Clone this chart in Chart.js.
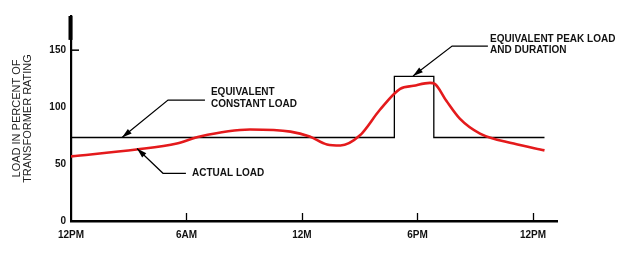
<!DOCTYPE html>
<html>
<head>
<meta charset="utf-8">
<script src="https://cdn.jsdelivr.net/npm/chart.js@4.4.1/dist/chart.umd.min.js"></script>
<style>
html,body{margin:0;padding:0;background:#fff}
#wrap{width:629px;height:269px}
</style>
</head>
<body>
<div id="wrap"><canvas id="loadChart"></canvas></div>
<script>
// axis ticks
const xTickValues = [0, 6, 12, 18, 24];
const xTickLabels = ['12PM', '6AM', '12M', '6PM', '12PM'];
const yTickValues = [0, 50, 100, 150];

// actual load (red curve), hours from start vs percent of rating
const actualHours = [0, 3.4, 5.5, 6.7, 9.3, 11.4, 12.4, 13.3, 14.0, 15.0, 16.05, 17.1, 17.8, 18.65, 18.9, 19.5, 20.2, 21.25, 23.0, 24.6];
const actualLoad  = [56.7, 62.8, 68.1, 74.2, 80.3, 78.5, 74.2, 67.2, 66.3, 75, 97.7, 116, 118.7, 121.3, 120.4, 105.6, 89.9, 76.8, 68, 62];

// equivalent constant load with the peak block
const equivHours = [0, 16.8, 16.8, 18.85, 18.85, 24.6];
const equivLoad  = [73.3, 73.3, 127, 127, 73.3, 73.3];

// callout labels, in data units (text anchor + leader path ending at arrow tip)
const callouts = [
  {lines: ['EQUIVALENT', 'CONSTANT LOAD'], at: [7.27, 107.8], path: [[6.96, 106.2], [5.04, 106.2], [2.65, 73.3]]},
  {lines: ['ACTUAL LOAD'], at: [6.29, 41.9], path: [[5.97, 41.9], [4.78, 41.9], [3.43, 63.7]]},
  {lines: ['EQUIVALENT PEAK LOAD', 'AND DURATION'], at: [21.77, 154.9], path: [[21.66, 153.6], [19.8, 153.6], [17.77, 127.4]]}
];

const FONT = '"Liberation Sans", Arial, sans-serif';

const toPts = (xs, ys) => xs.map((x, i) => ({x: x, y: ys[i]}));

const extras = {
  id: 'extras',
  afterDatasetsDraw(chart) {
    const {ctx, scales: {x, y}} = chart;
    ctx.save();
    ctx.strokeStyle = '#000';
    // heavier stub at the top of the y axis
    ctx.lineWidth = 4;
    ctx.beginPath();
    ctx.moveTo(x.left - 0.5, y.top);
    ctx.lineTo(x.left - 0.5, y.getPixelForValue(159));
    ctx.stroke();
    // inner tick marks on x axis
    ctx.lineWidth = 1.3;
    xTickValues.slice(1).forEach(v => {
      const px = Math.round(x.getPixelForValue(v)) + 0.5;
      ctx.beginPath();
      ctx.moveTo(px, y.bottom);
      ctx.lineTo(px, y.bottom - 8);
      ctx.stroke();
    });
    // tick at 150 on y axis
    const p150 = y.getPixelForValue(150);
    ctx.lineWidth = 1.5;
    ctx.beginPath();
    ctx.moveTo(x.left, p150);
    ctx.lineTo(x.left + 8, p150);
    ctx.stroke();

    // callouts
    ctx.font = 'bold 10px ' + FONT;
    ctx.textBaseline = 'middle';
    ctx.textAlign = 'left';
    callouts.forEach(c => {
      const pts = c.path.map(p => [x.getPixelForValue(p[0]), y.getPixelForValue(p[1])]);
      ctx.lineWidth = 1.2;
      ctx.strokeStyle = '#000';
      ctx.beginPath();
      ctx.moveTo(pts[0][0], pts[0][1]);
      pts.slice(1).forEach(p => ctx.lineTo(p[0], p[1]));
      ctx.stroke();
      // arrow head
      const a = pts[pts.length - 2], b = pts[pts.length - 1];
      const ang = Math.atan2(b[1] - a[1], b[0] - a[0]);
      const len = 10, hw = 3;
      ctx.fillStyle = '#000';
      ctx.beginPath();
      ctx.moveTo(b[0], b[1]);
      ctx.lineTo(b[0] - len * Math.cos(ang) + hw * Math.sin(ang), b[1] - len * Math.sin(ang) - hw * Math.cos(ang));
      ctx.lineTo(b[0] - len * Math.cos(ang) - hw * Math.sin(ang), b[1] - len * Math.sin(ang) + hw * Math.cos(ang));
      ctx.closePath();
      ctx.fill();
      // text
      ctx.fillStyle = '#111';
      const tx = x.getPixelForValue(c.at[0]);
      const ty = y.getPixelForValue(c.at[1]);
      const lh = 11.5;
      const top = ty - (c.lines.length - 1) * lh / 2;
      c.lines.forEach((l, i) => ctx.fillText(l, tx, top + i * lh));
    });
    ctx.restore();
  }
};

new Chart(document.getElementById('loadChart'), {
  type: 'scatter',
  data: {
    datasets: [
      {
        label: 'Actual load',
        data: toPts(actualHours, actualLoad),
        showLine: true,
        borderColor: '#e41a1c',
        borderWidth: 2.6,
        pointRadius: 0,
        cubicInterpolationMode: 'monotone'
      },
      {
        label: 'Equivalent load',
        data: toPts(equivHours, equivLoad),
        showLine: true,
        borderColor: '#000',
        borderWidth: 1.3,
        pointRadius: 0,
        tension: 0
      }
    ]
  },
  options: {
    responsive: true,
    maintainAspectRatio: false,
    animation: false,
    events: [],
    layout: {padding: {left: 0, top: 16, right: 72, bottom: 0}},
    plugins: {legend: {display: false}, tooltip: {enabled: false}},
    scales: {
      x: {
        type: 'linear',
        min: 0,
        max: 25.25,
        afterBuildTicks: s => { s.ticks = xTickValues.map(v => ({value: v})); },
        afterFit: s => { s.height = 48; },
        grid: {display: false, drawTicks: false},
        border: {display: true, color: '#000', width: 2.6},
        ticks: {
          color: '#111',
          padding: 8,
          maxRotation: 0,
          font: {family: FONT, size: 10, weight: 'bold'},
          callback: v => xTickLabels[xTickValues.indexOf(v)]
        }
      },
      y: {
        min: 0,
        max: 180,
        afterBuildTicks: s => { s.ticks = yTickValues.map(v => ({value: v})); },
        afterFit: s => { s.width = 71; },
        grid: {display: false, drawTicks: false},
        border: {display: true, color: '#000', width: 2.2},
        ticks: {
          color: '#111',
          padding: 5,
          font: {family: FONT, size: 10, weight: 'bold'}
        },
        title: {
          display: true,
          text: ['LOAD IN PERCENT OF', 'TRANSFORMER RATING'],
          color: '#222',
          padding: {top: 12, bottom: 0},
          font: {family: FONT, size: 11, lineHeight: 0.95}
        }
      }
    }
  },
  plugins: [extras]
});
</script>
</body>
</html>
